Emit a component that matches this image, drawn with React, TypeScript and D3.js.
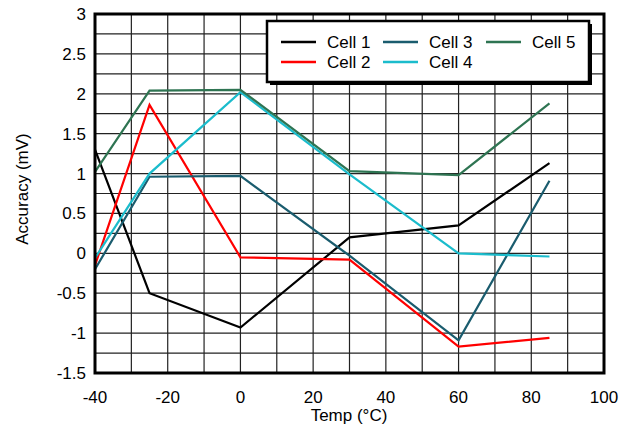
import React from "react";
import * as d3 from "d3";

const temps = [-40, -25, 0, 30, 60, 85];
const cell1 = [1.3, -0.5, -0.93, 0.2, 0.35, 1.13];
const cell2 = [-0.15, 1.86, -0.05, -0.08, -1.17, -1.06];
const cell3 = [-0.2, 0.96, 0.97, -0.03, -1.09, 0.91];
const cell4 = [-0.06, 1.0, 2.02, 0.99, 0.0, -0.04];
const cell5 = [1.02, 2.04, 2.05, 1.03, 0.98, 1.88];
const seriesNames = ["Cell 1", "Cell 2", "Cell 3", "Cell 4", "Cell 5"];
const seriesColors = ["#000000", "#ff0000", "#1a5c6e", "#1bbccc", "#2e7452"];
const xTicks = [-40, -20, 0, 20, 40, 60, 80, 100];
const yTicks = [-1.5, -1, -0.5, 0, 0.5, 1, 1.5, 2, 2.5, 3];

export default function App() {
  const W = 631, H = 425;
  const left = 95, right = 604, top = 14, bottom = 373;
  const x = d3.scaleLinear().domain([-40, 100]).range([left, right]);
  const y = d3.scaleLinear().domain([-1.5, 3]).range([bottom, top]);
  const series = [cell1, cell2, cell3, cell4, cell5];
  const line = d3.line<number>().x((_, i) => x(temps[i])).y((d) => y(d));
  const xGrid = d3.range(-40, 101, 10);
  const yGrid = d3.range(-1.5, 3.001, 0.25);
  const font = "'Liberation Sans', Arial, sans-serif";
  const fs = 17;

  const legendItems = [
    { i: 0, lx: 281, ty: 42 },
    { i: 1, lx: 281, ty: 62 },
    { i: 2, lx: 383, ty: 42 },
    { i: 3, lx: 383, ty: 62 },
    { i: 4, lx: 486, ty: 42 },
  ];

  return (
    <svg width={W} height={H} style={{ position: "absolute", left: 0, top: 0, background: "#fff" }} fontFamily={font}>
      <rect x={0} y={0} width={W} height={H} fill="#fff" />
      {xGrid.map((v) => (
        <line key={"gx" + v} x1={x(v)} x2={x(v)} y1={top} y2={bottom} stroke="#222" strokeWidth={1.2} />
      ))}
      {yGrid.map((v) => (
        <line key={"gy" + v} x1={left} x2={right} y1={y(v)} y2={y(v)} stroke="#222" strokeWidth={1.2} />
      ))}
      {series.map((s, i) => (
        <path key={i} d={line(s) || ""} fill="none" stroke={seriesColors[i]} strokeWidth={2.2} strokeLinejoin="miter" />
      ))}
      <rect x={left} y={top} width={right - left} height={bottom - top} fill="none" stroke="#000" strokeWidth={3} />
      {xTicks.map((v) => (
        <text key={"xt" + v} x={x(v)} y={403} textAnchor="middle" fontSize={fs} fill="#000">{v}</text>
      ))}
      {yTicks.map((v) => (
        <text key={"yt" + v} x={86} y={y(v) + 6} textAnchor="end" fontSize={fs} fill="#000">{v}</text>
      ))}
      <text x={349} y={421} textAnchor="middle" fontSize={fs} fill="#000">Temp (°C)</text>
      <text transform={`translate(28,189) rotate(-90)`} textAnchor="middle" fontSize={fs} fill="#000">Accuracy (mV)</text>
      <rect x={270} y={24} width={322} height={61} fill="#000" />
      <rect x={267} y={21} width={322} height={61} fill="#fff" stroke="#000" strokeWidth={2.5} />
      {legendItems.map((it) => (
        <g key={it.i}>
          <line x1={it.lx} x2={it.lx + 35} y1={it.ty} y2={it.ty} stroke={seriesColors[it.i]} strokeWidth={2.5} />
          <text x={it.lx + 46} y={it.ty + 6} fontSize={fs} fill="#000">{seriesNames[it.i]}</text>
        </g>
      ))}
    </svg>
  );
}
